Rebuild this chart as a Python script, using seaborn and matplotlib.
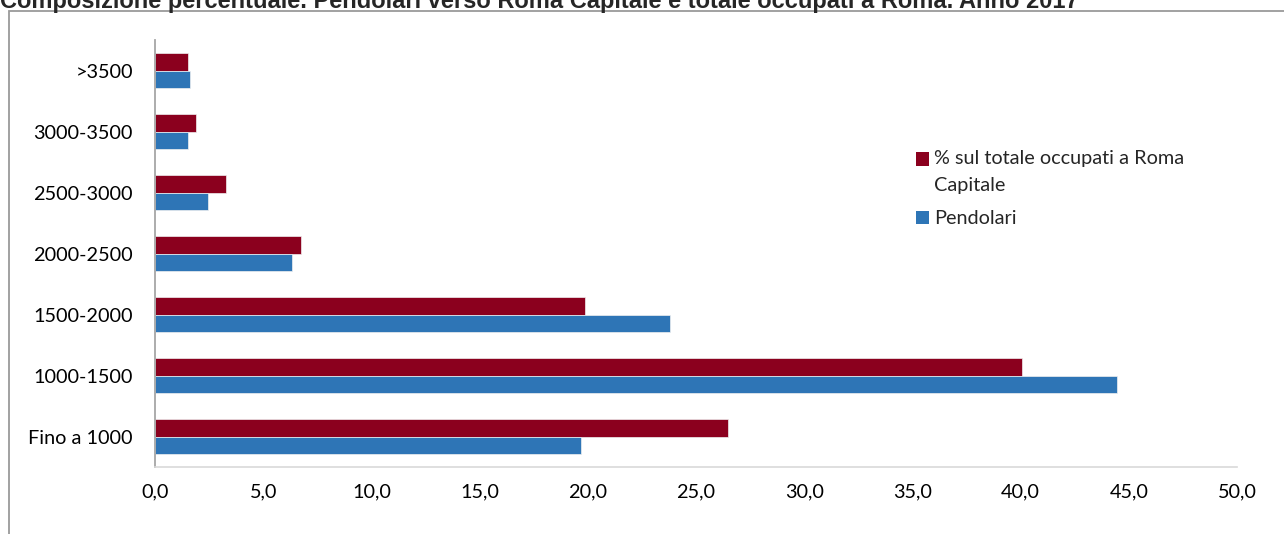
import pandas as pd
import seaborn as sns
import matplotlib.pyplot as plt
from matplotlib.patches import Rectangle, Patch
from matplotlib.legend_handler import HandlerPatch
from matplotlib.ticker import FuncFormatter, FixedLocator

# fasce di reddito (dall'alto verso il basso come nel grafico)
categories = [">3500", "3000-3500", "2500-3000", "2000-2500", "1500-2000", "1000-1500", "Fino a 1000"]
occupati_roma = [1.51, 1.88, 3.26, 6.73, 19.88, 40.07, 26.48]
pendolari = [1.63, 1.51, 2.44, 6.31, 23.78, 44.45, 19.69]
series_names = ["% sul totale occupati a Roma\nCapitale", "Pendolari"]
colors = ["#8b001e", "#2e75b6"]
x_ticks = [0, 5, 10, 15, 20, 25, 30, 35, 40, 45, 50]
title = "Composizione percentuale. Pendolari verso Roma Capitale e totale occupati a Roma. Anno 2017"


class FirstLineHandler(HandlerPatch):
    """Quadratino allineato alla prima riga di un'etichetta su due righe."""
    def __init__(self, shift):
        super().__init__()
        self.shift = shift

    def create_artists(self, legend, orig_handle, xdescent, ydescent, width, height, fontsize, trans):
        p = Rectangle((-xdescent, -ydescent + self.shift), width, height)
        self.update_prop(p, orig_handle, legend)
        p.set_transform(trans)
        return [p]


def build_frame():
    rows = []
    for cat, a, b in zip(categories, occupati_roma, pendolari):
        rows.append({"fascia": cat, "serie": series_names[0], "valore": a})
        rows.append({"fascia": cat, "serie": series_names[1], "valore": b})
    return pd.DataFrame(rows)


def main():
    df = build_frame()
    sns.set_style("white")
    plt.rcParams['font.family'] = ['Lato', 'DejaVu Sans']

    fig = plt.figure(figsize=(12.84, 5.34), dpi=100)
    ax = fig.add_axes([155 / 1284, 67 / 534, 1082 / 1284, 427 / 534])

    sns.barplot(data=df, y="fascia", x="valore", hue="serie", order=categories,
                hue_order=series_names, palette=colors, saturation=1,
                orient="h", width=0.575, gap=0, errorbar=None, ax=ax,
                edgecolor="#f0f0f0", linewidth=0.5, legend=False)

    ax.set_xlim(0, 50)
    ax.set_ylim(6.5, -0.5)
    ax.xaxis.set_major_locator(FixedLocator(x_ticks))
    ax.xaxis.set_major_formatter(FuncFormatter(lambda v, p: "{:.1f}".format(v).replace(".", ",")))
    ax.set_xlabel("")
    ax.set_ylabel("")

    # etichette al centro, tacche tra le categorie
    ax.yaxis.set_minor_locator(FixedLocator([i - 0.5 for i in range(len(categories) + 1)]))
    ax.tick_params(axis="y", which="major", length=0, pad=16, labelsize=14.3, colors="black")
    ax.tick_params(axis="y", which="minor", length=6, width=1.2, color="#a6a6a6", direction="out")
    ax.tick_params(axis="x", which="major", length=6, width=1, pad=6, labelsize=14.3)
    ax.tick_params(axis="x", colors="#d9d9d9", labelcolor="black")

    for s in ["top", "right"]:
        ax.spines[s].set_visible(False)
    ax.spines["left"].set_color("#a6a6a6")
    ax.spines["left"].set_linewidth(1.3)
    ax.spines["bottom"].set_color("#d9d9d9")
    ax.spines["bottom"].set_linewidth(1.2)

    handles = [Patch(facecolor=c, edgecolor="none", label=n) for c, n in zip(colors, series_names)]
    ax.legend(handles=handles, loc="upper left", bbox_to_anchor=(898 / 1284, 1 - 132 / 534),
              bbox_transform=fig.transFigure, frameon=False, fontsize=14.3,
              handlelength=0.65, handleheight=0.65, handletextpad=0.25,
              labelspacing=0.8, handler_map={handles[0]: FirstLineHandler(9.5)})
    for t in ax.get_legend().get_texts():
        t.set_linespacing(1.75)

    # cornice del grafico (tagliata a destra e in basso)
    fig.patches.append(Rectangle((9 / 1284, -0.1), 1.2, 1 - 11 / 534 + 0.1,
                                 transform=fig.transFigure, fill=False,
                                 edgecolor="#9a9a9a", linewidth=1.3))

    fig.text(0.0, 1 - 8 / 534, title, ha="left", va="baseline", fontsize=17,
             fontweight="bold", family=["Liberation Sans", "DejaVu Sans"])

    fig.savefig("out.png", dpi=100)
    plt.close()


if __name__ == '__main__':
    main()
